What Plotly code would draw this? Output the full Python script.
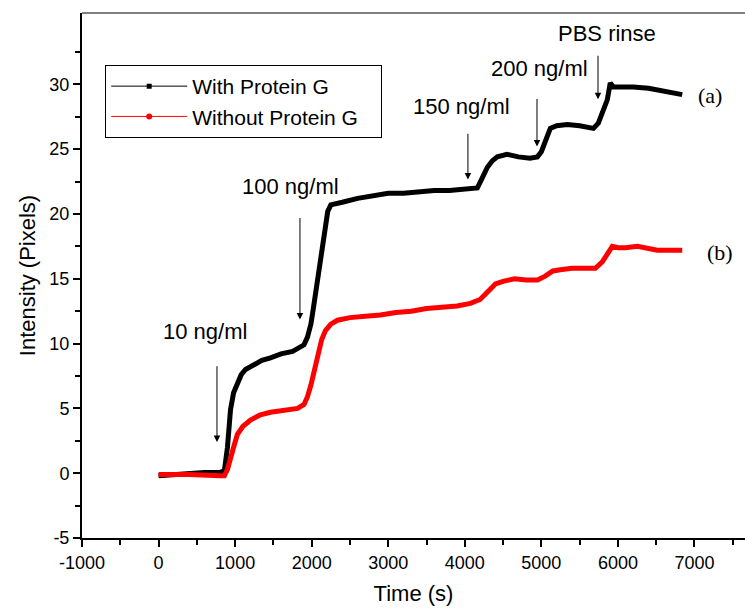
import plotly.graph_objects as go

# ---- data ----
t_with = [0, 200, 400, 600, 800, 860, 900, 940, 980, 1030, 1080, 1136,
          1250, 1350, 1462, 1600, 1750, 1854, 1900, 1945, 1990, 2024, 2070, 2115, 2150, 2180,
          2210, 2250, 2300, 2400, 2600, 2800, 3000, 3200, 3400, 3600, 3800, 4000, 4100, 4164,
          4230, 4295, 4360, 4425, 4550, 4700, 4850, 4948, 5000, 5040, 5080, 5117, 5200, 5340,
          5500, 5680, 5744, 5800, 5861, 5900, 5940, 6000, 6200, 6400, 6600, 6840]
v_with = [-0.2, -0.1, 0.0, 0.05, 0.05, 0.2, 2.0, 4.9, 6.2, 7.0, 7.6, 8.0,
          8.4, 8.7, 8.9, 9.2, 9.4, 9.7, 9.9, 10.5, 11.5, 12.8, 14.5, 16.2, 17.6, 18.8,
          20.2, 20.7, 20.8, 20.9, 21.2, 21.4, 21.6, 21.6, 21.7, 21.8, 21.8, 21.9, 21.9, 22.0,
          22.8, 23.6, 24.1, 24.4, 24.6, 24.4, 24.3, 24.4, 24.8, 25.4, 26.2, 26.6, 26.8, 26.9,
          26.8, 26.6, 27.0, 27.8, 28.8, 30.1, 29.8, 29.8, 29.8, 29.7, 29.5, 29.2]

t_without = [0, 400, 800, 860, 900, 940, 980, 1030, 1100, 1200,
             1330, 1462, 1600, 1815, 1900, 1945, 1990, 2024, 2060, 2089, 2130, 2180, 2250, 2337,
             2500, 2700, 2898, 3100, 3300, 3500, 3700, 3900, 4073, 4200, 4300, 4400, 4500, 4650,
             4800, 4950, 5050, 5150, 5248, 5400, 5550, 5705, 5796, 5860, 5927, 6005, 6100, 6253,
             6400, 6514, 6700, 6840]
v_without = [-0.1, -0.1, -0.2, -0.2, 0.3, 1.0, 2.0, 3.0, 3.6, 4.1,
             4.5, 4.7, 4.8, 5.0, 5.3, 5.9, 6.8, 7.7, 8.7, 9.5, 10.3, 11.0, 11.5, 11.8,
             12.0, 12.1, 12.2, 12.4, 12.5, 12.7, 12.8, 12.9, 13.1, 13.4, 14.0, 14.6, 14.8, 15.0,
             14.9, 14.9, 15.2, 15.6, 15.7, 15.8, 15.8, 15.8, 16.3, 16.9, 17.5, 17.4, 17.4, 17.5,
             17.3, 17.2, 17.2, 17.2]

series_names = ["With Protein G", "Without Protein G"]
series_colors = ["#000000", "#ff0000"]

# axis ticks
x_tickvals = [-1000, 0, 1000, 2000, 3000, 4000, 5000, 6000, 7000]
x_ticktext = ["-1000", "0", "1000", "2000", "3000", "4000", "5000", "6000", "7000"]
x_minorvals = [-500, 500, 1500, 2500, 3500, 4500, 5500, 6500, 7500]
y_tickvals = [-5, 0, 5, 10, 15, 20, 25, 30]
y_ticktext = ["-5", "0", "5", "10", "15", "20", "25", "30"]
y_minorvals = [-2.5, 2.5, 7.5, 12.5, 17.5, 22.5, 27.5, 32.5]

# injection annotations: label, label position, arrow x, arrow tail y, arrow head y
inj_labels = ["10 ng/ml", "100 ng/ml", "150 ng/ml", "200 ng/ml", "PBS rinse"]
inj_label_x = [606, 1717, 3963, 4981, 5857]
inj_label_y = [10.9, 22.1, 28.3, 31.2, 33.9]
arrow_x = [763, 1847, 4041, 4943, 5740]
arrow_tail_y = [8.37, 19.8, 26.3, 28.99, 32.32]
arrow_head_y = [2.41, 11.85, 22.66, 25.2, 28.84]

curve_labels = ["(a)", "(b)"]
curve_label_x = [7202, 7333]
curve_label_y = [29.1, 17.0]

x_range = [-1000, 7660]
y_range = [-5, 35.5]

FONT = "Liberation Sans, Arial, sans-serif"
PAD = "\u00a0\u00a0\u00a0"

fig = go.Figure()

fig.add_trace(go.Scatter(x=t_with, y=v_with, mode="lines", showlegend=False,
                         line=dict(color=series_colors[0], width=5)))
fig.add_trace(go.Scatter(x=t_without, y=v_without, mode="lines", showlegend=False,
                         line=dict(color=series_colors[1], width=5)))

# legend entries (thin line with small marker, as in the reference legend)
fig.add_trace(go.Scatter(x=[None], y=[None], mode="lines+markers", name=series_names[0] + PAD,
                         line=dict(color=series_colors[0], width=1),
                         marker=dict(symbol="square", size=5, color=series_colors[0])))
fig.add_trace(go.Scatter(x=[None], y=[None], mode="lines+markers", name=series_names[1] + PAD,
                         line=dict(color=series_colors[1], width=1),
                         marker=dict(symbol="circle", size=6, color=series_colors[1])))

annotations = []
for lab, lx, ly in zip(inj_labels, inj_label_x, inj_label_y):
    annotations.append(dict(x=lx, y=ly, xref="x", yref="y", text=lab, showarrow=False,
                            font=dict(family=FONT, size=22, color="black"),
                            xanchor="center", yanchor="middle"))
for ax_, ty, hy in zip(arrow_x, arrow_tail_y, arrow_head_y):
    annotations.append(dict(x=ax_, y=hy, ax=ax_, ay=ty, xref="x", yref="y", axref="x", ayref="y",
                            text="", showarrow=True, arrowhead=2, arrowsize=1.3, arrowwidth=1,
                            arrowcolor="black"))
for lab, lx, ly in zip(curve_labels, curve_label_x, curve_label_y):
    annotations.append(dict(x=lx, y=ly, xref="x", yref="y", text=lab, showarrow=False,
                            font=dict(family="Liberation Serif, Times New Roman, serif", size=22,
                                      color="black"),
                            xanchor="center", yanchor="middle"))

fig.update_layout(
    width=745, height=609,
    margin=dict(l=82, r=0, t=13, b=71),
    paper_bgcolor="white", plot_bgcolor="white",
    font=dict(family=FONT, size=18, color="black"),
    annotations=annotations,
    shapes=[dict(type="line", xref="paper", yref="paper", x0=0, x1=1, y0=1, y1=1,
                 line=dict(color="#555555", width=1.5))],
    legend=dict(x=0.035, y=0.901, xanchor="left", yanchor="top",
                bordercolor="black", borderwidth=1, bgcolor="white",
                font=dict(family=FONT, size=21, color="black"),
                tracegroupgap=0, itemwidth=76),
)

fig.update_xaxes(range=x_range, tickmode="array", tickvals=x_tickvals, ticktext=x_ticktext,
                 showgrid=False, zeroline=False,
                 showline=True, linecolor="black", linewidth=2,
                 ticks="outside", ticklen=7, tickwidth=2, tickcolor="black",
                 minor=dict(tickmode="array", tickvals=x_minorvals, ticks="outside", ticklen=5,
                            tickwidth=2, tickcolor="black", showgrid=False),
                 tickfont=dict(family=FONT, size=18),
                 title=dict(text="Time (s)", font=dict(family=FONT, size=22), standoff=14))
fig.update_yaxes(range=y_range, tickmode="array", tickvals=y_tickvals, ticktext=y_ticktext,
                 showgrid=False, zeroline=False,
                 showline=True, linecolor="black", linewidth=2,
                 ticks="outside", ticklen=7, tickwidth=2, tickcolor="black",
                 minor=dict(tickmode="array", tickvals=y_minorvals, ticks="outside", ticklen=5,
                            tickwidth=2, tickcolor="black", showgrid=False),
                 tickfont=dict(family=FONT, size=18),
                 title=dict(text="Intensity (Pixels)", font=dict(family=FONT, size=22), standoff=8))

fig.write_html("out.html")
